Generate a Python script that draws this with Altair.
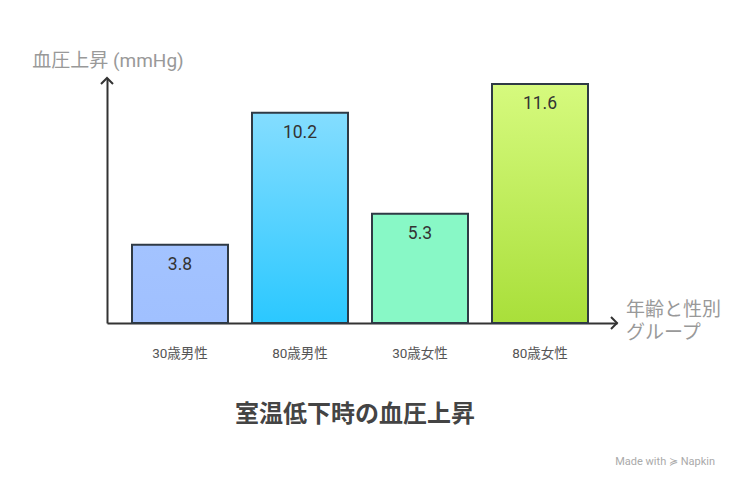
import altair as alt
import pandas as pd

# ---- data ----
categories = ["30歳男性", "80歳男性", "30歳女性", "80歳女性"]
values = [3.8, 10.2, 5.3, 11.6]

y_title = "血圧上昇 (mmHg)"
x_title_lines = ["年齢と性別", "グループ"]
chart_title = "室温低下時の血圧上昇"
watermark = "Made with ≽ Napkin"

# ---- styles ----
top_colors = ["#a3c3ff", "#84ddff", "#88f8c6", "#d6fa7e"]
bottom_colors = ["#a0c0ff", "#2bc8ff", "#88f8c6", "#a9df3a"]
STROKE = "#2f3a45"
FONT = "Roboto, Noto Sans CJK JP, sans-serif"
W, H = 510, 245

df = pd.DataFrame({"group": categories, "value": values})
one = pd.DataFrame({"k": [0]})

x = alt.X(
    "group:N",
    sort=categories,
    scale=alt.Scale(domain=categories, paddingInner=0.2, paddingOuter=0.225, align=0.463),
    axis=alt.Axis(
        title=None, labelAngle=0, ticks=False, labelPadding=23,
        labelFontSize=13.5, labelColor="#555", labelFont=FONT,
        domainColor="#333", domainWidth=2,
    ),
)
y = alt.Y(
    "value:Q",
    scale=alt.Scale(domain=[0, 11.89], nice=False),
    axis=alt.Axis(title=None, labels=False, ticks=False, grid=False,
                  domainColor="#333", domainWidth=2),
)

base = alt.Chart(df)
layers = []
for i, c in enumerate(categories):
    grad = alt.LinearGradient(
        gradient="linear",
        stops=[alt.GradientStop(color=top_colors[i], offset=0),
               alt.GradientStop(color=bottom_colors[i], offset=1)],
        x1=0, x2=0, y1=0, y2=1,
    )
    layers.append(
        base.transform_filter(alt.datum.group == c)
        .mark_bar(fill=grad, stroke=STROKE, strokeWidth=2)
        .encode(x=x, y=y)
    )

labels = base.mark_text(baseline="middle", dy=20, fontSize=17.5, color="#333", font=FONT).encode(
    x=x, y=y, text=alt.Text("value:Q", format=".1f")
)

ytitle = alt.Chart(one).mark_text(fontSize=19, color="#999", font=FONT, baseline="middle").encode(
    x=alt.value(1), y=alt.value(-17), text=alt.value(y_title)
)
xtitle1 = alt.Chart(one).mark_text(fontSize=19, color="#999", font=FONT, align="left", baseline="middle").encode(
    x=alt.value(519), y=alt.value(232), text=alt.value(x_title_lines[0])
)
xtitle2 = alt.Chart(one).mark_text(fontSize=19, color="#999", font=FONT, align="left", baseline="middle").encode(
    x=alt.value(519), y=alt.value(255), text=alt.value(x_title_lines[1])
)
title = alt.Chart(one).mark_text(fontSize=24, fontWeight="bold", color="#444", font=FONT, baseline="middle").encode(
    x=alt.value(248), y=alt.value(337), text=alt.value(chart_title)
)
wm = alt.Chart(one).mark_text(fontSize=11, color="#aaa", font=FONT, align="right", baseline="middle").encode(
    x=alt.value(608), y=alt.value(384), text=alt.value(watermark)
)
arrow_up = alt.Chart(one).mark_point(shape="M -1 1 L 0 0 L 1 1", filled=False, size=144,
                                     stroke="#333", strokeWidth=2, opacity=1).encode(
    x=alt.value(0), y=alt.value(0)
)
arrow_right = alt.Chart(one).mark_point(shape="M -1 -1 L 0 0 L -1 1", filled=False, size=144,
                                        stroke="#333", strokeWidth=2, opacity=1).encode(
    x=alt.value(W), y=alt.value(H)
)

chart = alt.layer(*layers, labels, ytitle, xtitle1, xtitle2, title, wm, arrow_up, arrow_right).properties(
    width=W, height=H,
    autosize=alt.AutoSizeParams(type="none"),
    padding={"left": 99, "top": 70, "right": 131, "bottom": 159},
    background="white",
).configure_view(stroke=None)

chart.save("out.html", embed_options={"renderer": "svg", "actions": False})
